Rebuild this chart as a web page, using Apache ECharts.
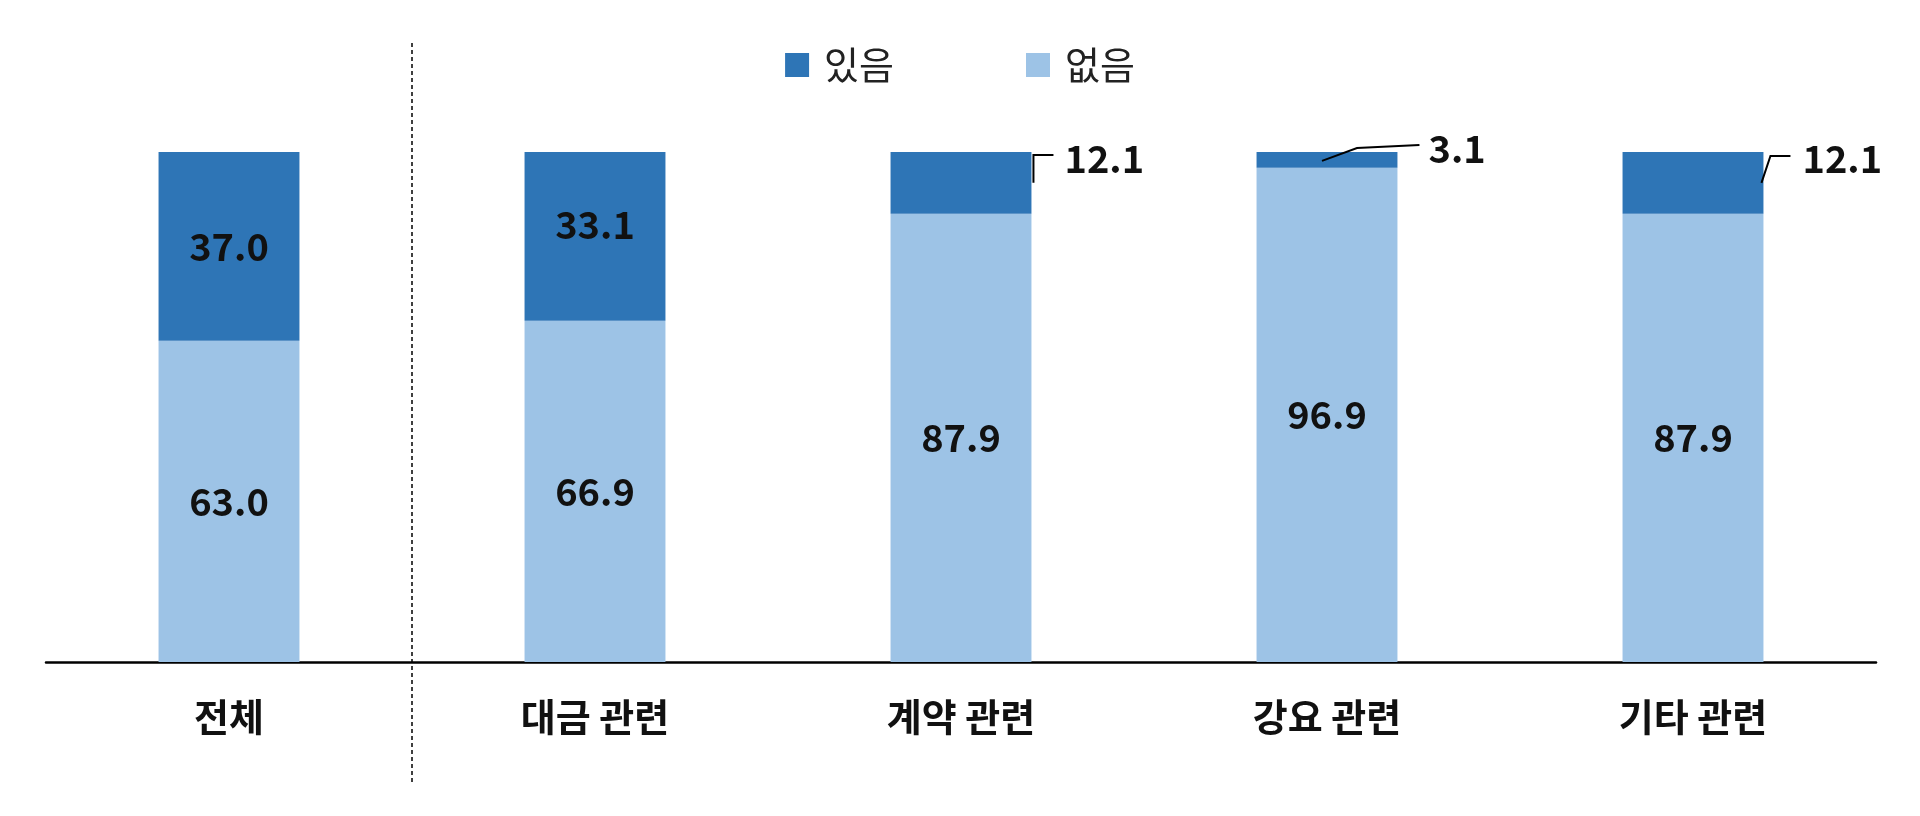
<!DOCTYPE html>
<html><head><meta charset="utf-8">
<script src="https://cdn.jsdelivr.net/npm/echarts@6/dist/echarts.min.js"></script>
<style>html,body{margin:0;padding:0;background:#fff}#c{width:1920px;height:816px}</style>
</head><body><div id="c"></div>
<script>
const categories = ['전체', '대금 관련', '계약 관련', '강요 관련', '기타 관련'];
const yesValues = [37.0, 33.1, 12.1, 3.1, 12.1];
const noValues = [63.0, 66.9, 87.9, 96.9, 87.9];
const seriesNames = ['있음', '없음'];
const outsideLabelCategories = ['계약 관련', '강요 관련', '기타 관련'];
const leaderKinds = ['elbow', 'diagonal', 'edge'];

const FONT = '"Noto Sans CJK KR", "Noto Sans", sans-serif';
const BAR_RATIO = 0.385;
const DARK = '#2E75B6', LIGHT = '#9DC3E6';

const chart = echarts.init(document.getElementById('c'), null, {renderer: 'canvas'});

const yesData = yesValues.map((v, i) => {
  const outside = outsideLabelCategories.indexOf(categories[i]) >= 0;
  const item = {value: v, label: {show: !outside}};
  if (i === 1) item.label.offset = [0, -12];
  return item;
});

const leaderData = outsideLabelCategories.map(c => {
  const i = categories.indexOf(c);
  return [i, yesValues[i]];
});

function renderLeader(params, api) {
  const ci = api.value(0), v = api.value(1);
  const top = api.coord([ci, 100]);
  const mid = api.coord([ci, 100 - v / 2]);
  const half = api.size([1, 0])[0] * BAR_RATIO / 2;
  const cx = top[0], yT = top[1], yM = mid[1];
  const R = cx + half;
  const kind = leaderKinds[params.dataIndex];
  let pts, tx, ty;
  if (kind === 'elbow') {
    pts = [[R + 2, yM], [R + 2, yT + 3], [R + 22, yT + 3]];
    tx = R + 33; ty = yT + 7;
  } else if (kind === 'diagonal') {
    pts = [[cx - 5, yM + 1], [cx + 30, yT - 4], [R + 22, yT - 7]];
    tx = R + 31; ty = yT - 3;
  } else {
    pts = [[R - 2, yM], [R + 7, yT + 4], [R + 27, yT + 4]];
    tx = R + 39; ty = yT + 7;
  }
  return {
    type: 'group',
    children: [
      {type: 'polyline', shape: {points: pts}, style: {stroke: '#000', lineWidth: 2, fill: null}},
      {type: 'text', style: {text: v.toFixed(1), x: tx, y: ty, align: 'left', verticalAlign: 'middle',
        fontSize: 38, fontWeight: 'bold', fontFamily: FONT, fill: '#111'}}
    ]
  };
}

chart.setOption({
  animation: false,
  backgroundColor: '#fff',
  textStyle: {fontFamily: FONT},
  legend: {
    data: seriesNames,
    top: 41, left: 'center',
    icon: 'rect', itemWidth: 24, itemHeight: 24, itemGap: 132,
    textStyle: {fontSize: 38, color: '#222', fontFamily: FONT, padding: [0, 0, 0, 10]}
  },
  grid: {left: 46, right: 44, top: 152, bottom: 154, containLabel: false},
  xAxis: {
    type: 'category', data: categories,
    axisLine: {lineStyle: {color: '#000', width: 2.5}},
    axisTick: {show: false},
    axisLabel: {fontSize: 38, fontWeight: 'bold', color: '#111', margin: 36, fontFamily: FONT}
  },
  yAxis: {type: 'value', min: 0, max: 100, show: false, splitLine: {show: false}},
  series: [
    {
      name: seriesNames[1], type: 'bar', stack: 'total', barWidth: (BAR_RATIO * 100) + '%',
      itemStyle: {color: LIGHT}, data: noValues,
      label: {show: true, position: 'inside', fontSize: 38, fontWeight: 'bold', color: '#111',
        fontFamily: FONT, formatter: p => p.value.toFixed(1)}
    },
    {
      name: seriesNames[0], type: 'bar', stack: 'total', barWidth: (BAR_RATIO * 100) + '%',
      itemStyle: {color: DARK}, data: yesData,
      label: {position: 'inside', fontSize: 38, fontWeight: 'bold', color: '#111',
        fontFamily: FONT, formatter: p => Number(p.value).toFixed(1)}
    },
    {
      name: 'leader', type: 'custom', coordinateSystem: 'cartesian2d',
      renderItem: renderLeader, data: leaderData, encode: {x: 0, y: 1}, z: 5, silent: true
    }
  ]
});

const xa = chart.convertToPixel({xAxisIndex: 0}, categories[0]);
const xb = chart.convertToPixel({xAxisIndex: 0}, categories[1]);
const xs = (xa + xb) / 2;
chart.setOption({
  graphic: [{type: 'line', shape: {x1: xs, y1: 43, x2: xs, y2: 784},
    style: {stroke: '#000', lineWidth: 1.5, lineDash: [4, 3]}, z: 10}]
});
</script></body></html>
